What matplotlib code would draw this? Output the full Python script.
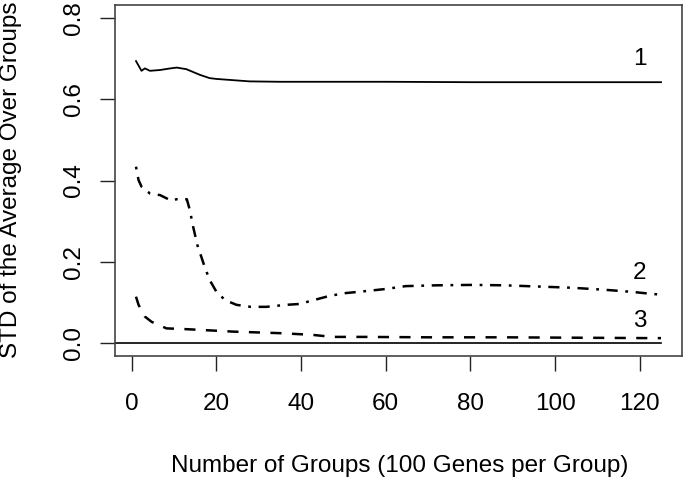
import numpy as np
import matplotlib
matplotlib.use("Agg")
import matplotlib.pyplot as plt

plt.rcParams['font.family'] = ['Liberation Sans', 'DejaVu Sans']

# curve 1 (solid)
x1 = [1, 2.3, 3.1, 4.3, 6.7, 8.5, 10.6, 12.9, 14.5, 16.1, 18.4, 20, 23.9, 27.8, 35, 45, 60, 80, 100, 125]
y1 = [0.694, 0.670, 0.676, 0.670, 0.672, 0.675, 0.678, 0.674, 0.667, 0.660, 0.652, 0.650, 0.647, 0.644,
      0.643, 0.643, 0.643, 0.642, 0.642, 0.642]

# curve 2 (dot-dash)
x2 = [1, 1.6, 2.3, 4.3, 6.7, 9.4, 10.6, 13, 13.7, 14.5, 15.5, 17.2, 18.4, 20, 22, 24.7, 28.1, 31.8, 36.5,
      39.6, 43.5, 46.7, 50.6, 53.7, 60, 64.7, 72, 80.3, 88, 96, 104, 111.7, 118, 122.7, 125]
y2 = [0.434, 0.401, 0.385, 0.368, 0.364, 0.350, 0.354, 0.354, 0.328, 0.286, 0.241, 0.188, 0.155, 0.126,
      0.106, 0.094, 0.089, 0.089, 0.094, 0.096, 0.107, 0.116, 0.123, 0.126, 0.133, 0.140, 0.142, 0.143,
      0.142, 0.139, 0.136, 0.131, 0.126, 0.121, 0.119]

# curve 3 (dashed)
x3 = [1, 1.6, 3.1, 4.7, 8.2, 13, 24, 35.6, 42.7, 47.4, 55, 70, 88, 105, 122.7, 125]
y3 = [0.114, 0.094, 0.065, 0.052, 0.036, 0.034, 0.028, 0.024, 0.020, 0.015, 0.015, 0.014, 0.014,
      0.013, 0.012, 0.012]

curve_labels = ["1", "2", "3"]
label_x = [120, 120, 120]
label_y = [0.70, 0.172, 0.054]

xticks = [0, 20, 40, 60, 80, 100, 120]
yticks = [0.0, 0.2, 0.4, 0.6, 0.8]

fs = 17.5

fig = plt.figure(figsize=(6.85, 4.78), dpi=100)
ax = fig.add_axes([115 / 685, (478 - 356) / 478, (682 - 115) / 685, (356 - 5) / 478])

plt.rcParams['lines.scale_dashes'] = False
ax.plot(x1, y1, color='black', lw=1.3, solid_joinstyle='round')
ax.plot(x2, y2, color='black', lw=1.8, dashes=(2.0, 5.5, 8.0, 5.5))
ax.plot(x3, y3, color='black', lw=1.8, dashes=(8.0, 7.5))
ax.plot([-10, 125], [0, 0], color='black', lw=1.2)

for lab, lx, ly in zip(curve_labels, label_x, label_y):
    ax.text(lx, ly, lab, fontsize=fs, ha='center', va='center')

ax.set_xlim(-3.96, 129.96)
ax.set_ylim(-0.032, 0.832)
ax.set_xticks(xticks)
ax.set_xticklabels([str(v) for v in xticks])
ax.set_yticks(yticks)
ax.set_yticklabels(["%.1f" % v for v in yticks], rotation=90, va='center')
ax.tick_params(direction='out', length=11, width=1.0, labelsize=fs, color='#222222')
ax.tick_params(axis='x', pad=16)
ax.tick_params(axis='y', pad=10.5)
for s in ax.spines.values():
    s.set_color('#444444')
    s.set_linewidth(1.2)

fig.text(400 / 685, 1 - 466 / 478, "Number of Groups (100 Genes per Group)", fontsize=fs,
         ha='center', va='center')
fig.text(11 / 685, 1 - 180 / 478, "STD of the Average Over Groups", fontsize=fs,
         ha='center', va='center', rotation=90)

fig.savefig("out.png", dpi=100)
